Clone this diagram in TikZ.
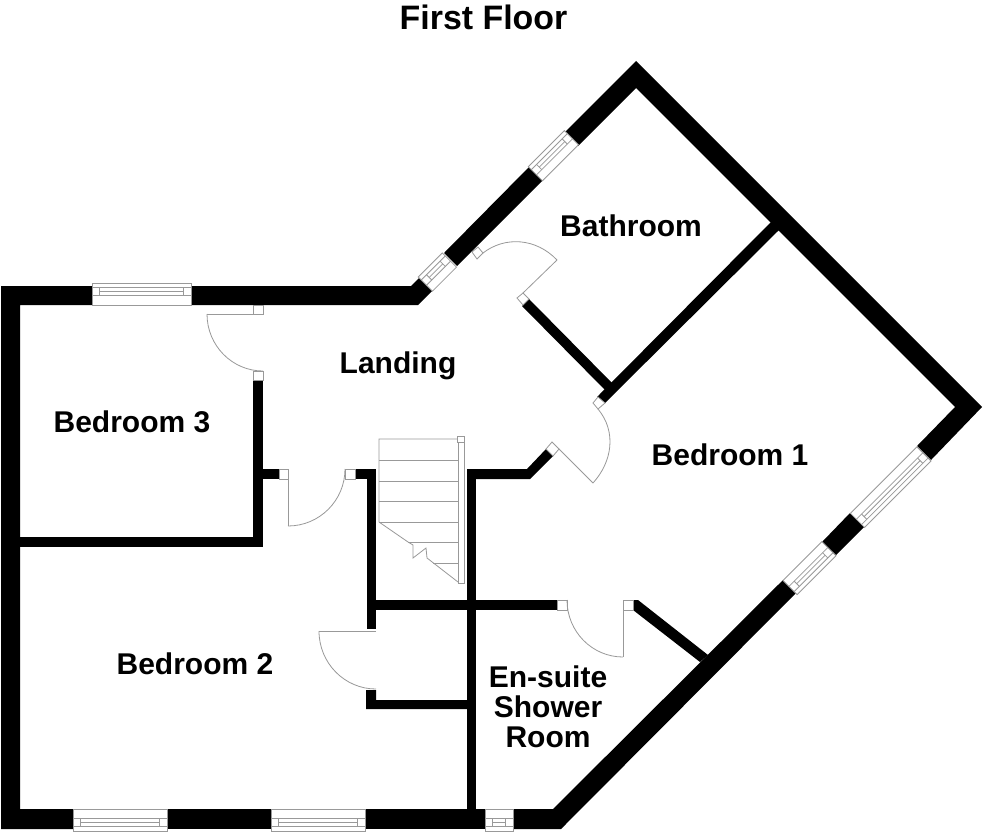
\documentclass[tikz,border=0pt]{standalone}
\usepackage{fontspec}
\setmainfont{Liberation Sans}
\usetikzlibrary{calc}
\definecolor{linegray}{gray}{0.6}
\tikzset{
  wall/.style={fill=black,draw=none},
  thin line/.style={draw=linegray,line width=0.8pt},
  jamb/.style={draw=linegray,line width=0.8pt,fill=white},
  label/.style={font=\bfseries\fontsize{30}{30}\selectfont,align=center,text=black},
  heading/.style={font=\bfseries\fontsize{33.9}{36}\selectfont,text=black}
}
% window: origin at the outer corner, #3 rotation, #4 length, #5 thickness
\newcommand{\flatwin}[5]{%
  \begin{scope}[shift={(#1,#2)},rotate=#3]
    \draw[jamb] (0,0) rectangle (#4,#5);
    \draw[thin line] (0,{0.21*#5}) -- (#4,{0.21*#5});
    \draw[thin line] (0,{0.58*#5}) -- (#4,{0.58*#5});
    \draw[thin line] ({0.07*#5+6},{0.21*#5}) -- ({0.07*#5+6},{0.58*#5});
    \draw[thin line] ({#4-0.07*#5-6},{0.21*#5}) -- ({#4-0.07*#5-6},{0.58*#5});
    \draw[thin line] ({0.07*#5+6},{0.4*#5}) -- ({#4-0.07*#5-6},{0.4*#5});
  \end{scope}}
% quarter-arc from P to Q about hinge C
\newcommand{\swing}[6]{%
  \draw[thin line] (#3,#4) .. controls ($(#3,#4)+0.5523*($(#5,#6)-(#1,#2)$)$) and ($(#5,#6)+0.5523*($(#3,#4)-(#1,#2)$)$) .. (#5,#6);}
\begin{document}
\begin{tikzpicture}[x=1pt,y=-1pt]
\path[use as bounding box,fill=white] (0,0) rectangle (984,832);

% outer walls
\fill[wall] (1,286) -- (92,286) -- (92,305) -- (20,305) -- (20,809) -- (73,809) -- (73,829) -- (1,829) -- cycle;
\fill[wall] (191,286) -- (411,286) -- (420,277) -- (433,290) -- (418,305) -- (191,305) -- cycle;
\fill[wall] (444,253) -- (457,266) -- (543,180) -- (529,167) -- cycle;
\fill[wall] (565,132) -- (636,61) -- (982,407) -- (931,460) -- (917,446) -- (955,407) -- (636,88) -- (578,146) -- cycle;
\fill[wall] (850,513) -- (864,527) -- (836,555) -- (822,542) -- cycle;
\fill[wall] (513,809) -- (553,809) -- (783,580) -- (796,593) -- (561,829) -- (513,829) -- cycle;
\fill[wall] (167,809) rectangle (271,829);
\fill[wall] (365,809) rectangle (485,829);

% inner walls
\fill[wall] (253,380) rectangle (263,547);
\fill[wall] (20,537) rectangle (263,547);
\fill[wall] (263,469) rectangle (279,479);
\fill[wall] (355,469) rectangle (376,479);
\fill[wall] (367,469) rectangle (376,629);
\fill[wall] (367,600) rectangle (557,610);
\fill[wall] (467,469) rectangle (476,809);
\fill[wall] (467,469) -- (527,469) -- (546,449) -- (553,456) -- (530,479) -- (467,479) -- cycle;
\fill[wall] (366,690) -- (376,690) -- (376,700) -- (467,700) -- (467,709) -- (366,709) -- cycle;
\fill[wall] (597,397) -- (605,403) -- (780,229) -- (771,222) -- cycle;
\fill[wall] (522,306) -- (529,299) -- (613,384) -- (606,391) -- cycle;
\fill[wall] (633,600) -- (638,600) -- (708,655) -- (700,662) -- (633,610) -- cycle;

% windows
\flatwin{92}{283}{0}{99}{22}
\flatwin{167}{831}{180}{94}{22}
\flatwin{365}{831}{180}{94}{22}
\flatwin{513}{831}{180}{28}{22}
\flatwin{418.3}{277}{45}{34}{20}
\flatwin{528.3}{166.7}{45}{51}{20}
\flatwin{931}{461}{225}{94}{20}
\flatwin{836}{555.7}{225}{55}{20}

% stairs
\draw[thin line] (458,439) -- (379,439) -- (379,522) -- (408,542) -- (413,545) -- (413,558) -- (426,548) -- (427,558) -- (458,582);
\foreach \ty in {460,481,501,522} \draw[thin line] (379,\ty) -- (458,\ty);
\draw[thin line] (408,542) -- (458,542);
\draw[thin line] (433,563) -- (458,563);
\draw[jamb] (458,439) rectangle (464,583);
\draw[jamb] (457,436) rectangle (464,442);

% doors: Bedroom 3
\draw[jamb] (253,305) rectangle (263,314);
\draw[jamb] (253,371) rectangle (263,380);
\draw[thin line] (253,314) -- (207,314);
\swing{263}{314}{207}{314}{263}{371}
% Bedroom 2 from landing
\draw[jamb] (279,469) rectangle (288,479);
\draw[jamb] (345,469) rectangle (355,479);
\draw[thin line] (288,479) -- (288,526);
\swing{288}{469}{288}{526}{345}{469}
% Bedroom 2 lower door
\draw[thin line] (376,631) -- (319,631);
\swing{376}{631}{319}{631}{376}{689}
% En-suite
\draw[jamb] (557,600) rectangle (567,610);
\draw[jamb] (623,600) rectangle (633,610);
\draw[thin line] (623,610) -- (623,657);
\swing{623}{600}{623}{657}{567}{600}
% Bedroom 1
\draw[jamb] (552,442) -- (559,449) -- (553,456) -- (546,449) -- cycle;
\draw[jamb] (598,397) -- (605,403) -- (598,409) -- (593,403) -- cycle;
\draw[thin line] (559,449) -- (593,483);
\draw[thin line] (593,483) .. controls (612,462) and (617,432) .. (598,409);
% Bathroom
\draw[jamb] (472,252) -- (478,247) -- (483,253) -- (477,259) -- cycle;
\draw[jamb] (517,298) -- (523,293) -- (529,299) -- (523,305) -- cycle;
\draw[thin line] (523,293) -- (557,260);
\draw[thin line] (557,260) .. controls (536,238) and (505,236) .. (483,253);

% labels
\node[heading] (title) at (483.5,17.5) {First Floor};
\node[label] (bath) at (631,226) {Bathroom};
\node[label] (landing) at (398,366) {Landing};
\node[label] (bed3) at (132,422) {Bedroom 3};
\node[label] (bed1) at (730,455) {Bedroom 1};
\node[label] (bed2) at (195,664) {Bedroom 2};
\node[label] (ensuite) at (548,707) {En-suite\\Shower\\Room};
\end{tikzpicture}
\end{document}
